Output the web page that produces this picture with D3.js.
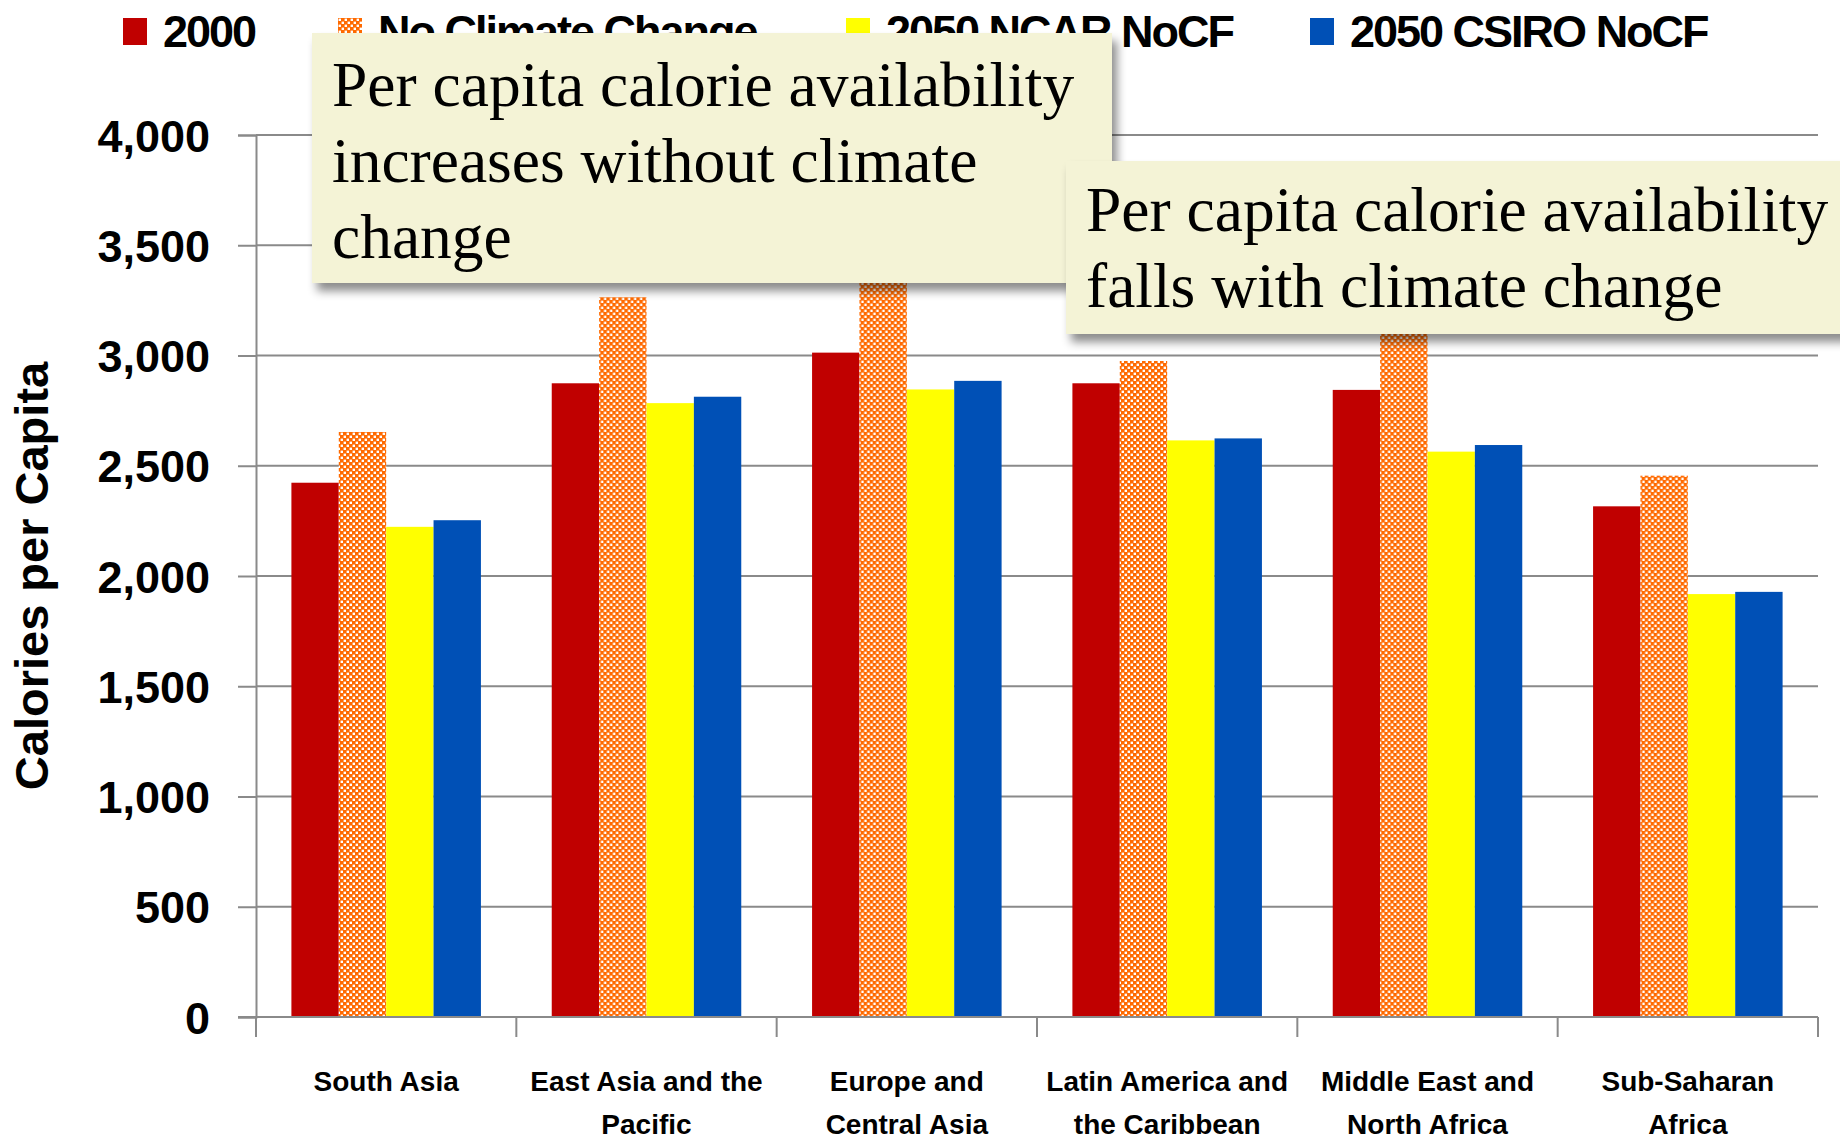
<!DOCTYPE html>
<html>
<head>
<meta charset="utf-8">
<script src="https://cdn.jsdelivr.net/npm/d3@7"></script>
<style>
  html, body { margin: 0; padding: 0; background: #fff; }
  svg { display: block; }
</style>
</head>
<body>
<svg id="chart" width="1840" height="1141"></svg>
<script>
// Regions and their wrapped axis labels
const categories = ["South Asia", "East Asia and the Pacific", "Europe and Central Asia",
  "Latin America and the Caribbean", "Middle East and North Africa", "Sub-Saharan Africa"];
const categoryLabelLines = [
  ["South Asia"],
  ["East Asia and the", "Pacific"],
  ["Europe and", "Central Asia"],
  ["Latin America and", "the Caribbean"],
  ["Middle East and", "North Africa"],
  ["Sub-Saharan", "Africa"]
];

// Series (per capita kcal/day)
const seriesNames = ["2000", "No Climate Change", "2050 NCAR NoCF", "2050 CSIRO NoCF"];
const values2000 = [2423, 2874, 3013, 2874, 2844, 2316];
const valuesNoCC = [2653, 3264, 3420, 2975, 3100, 2455];
const valuesNCAR = [2223, 2784, 2846, 2615, 2564, 1918];
const valuesCSIRO = [2253, 2813, 2885, 2624, 2594, 1928];

const yTicks = [0, 500, 1000, 1500, 2000, 2500, 3000, 3500, 4000];
const yTitle = "Calories per Capita";

const notes = [
  ["Per capita calorie availability", "increases without climate", "change"],
  ["Per capita calorie availability", "falls with climate change"]
];

const seriesValues = [values2000, valuesNoCC, valuesNCAR, valuesCSIRO];
const fills = ["#c00000", "url(#checker)", "#ffff00", "#0050b6"];

const svg = d3.select("#chart");
const defs = svg.append("defs");

// orange/white checker used by the no-climate-change series
const pat = defs.append("pattern").attr("id", "checker")
  .attr("patternUnits", "userSpaceOnUse").attr("width", 6).attr("height", 6);
pat.append("rect").attr("width", 6).attr("height", 6).attr("fill", "#ff6a00");
pat.append("rect").attr("x", 0.6).attr("y", 0.6).attr("width", 2.4).attr("height", 2.4).attr("fill", "#fff");
pat.append("rect").attr("x", 3.6).attr("y", 3.6).attr("width", 2.4).attr("height", 2.4).attr("fill", "#fff");

const shadow = defs.append("filter").attr("id", "shadow")
  .attr("x", "-5%").attr("y", "-5%").attr("width", "115%").attr("height", "125%");
shadow.append("feDropShadow").attr("dx", 5).attr("dy", 8).attr("stdDeviation", 5)
  .attr("flood-color", "#000").attr("flood-opacity", 0.45);

const plot = { left: 256, right: 1818, top: 135, bottom: 1017 };

const x0 = d3.scaleBand().domain(categories).range([plot.left, plot.right]).padding(0);
const bw = x0.bandwidth();
const x1 = d3.scaleBand().domain(seriesNames).range([bw * 0.136, bw * 0.864]).padding(0);
const y = d3.scaleLinear().domain([0, 4000]).range([plot.bottom, plot.top]);

const axisColor = "#8a8a8a";
const sans = "'Liberation Sans', Arial, sans-serif";
const serif = "'Liberation Serif', 'Times New Roman', serif";

// gridlines
svg.append("g").selectAll("line").data(yTicks.filter(d => d > 0)).join("line")
  .attr("x1", plot.left).attr("x2", plot.right)
  .attr("y1", d => y(d)).attr("y2", d => y(d))
  .attr("stroke", axisColor).attr("stroke-width", 2);

// y axis
const yAxis = svg.append("g").attr("transform", `translate(${plot.left},0)`)
  .call(d3.axisLeft(y).tickValues(yTicks).tickSize(18).tickPadding(28).tickFormat(d3.format(",")));
yAxis.select(".domain").attr("stroke", axisColor).attr("stroke-width", 2);
yAxis.selectAll(".tick line").attr("stroke", axisColor).attr("stroke-width", 2);
yAxis.selectAll(".tick text").attr("font-family", sans).attr("font-weight", "bold")
  .attr("font-size", 45).attr("fill", "#000").attr("dy", "0.36em");

// y title
svg.append("text")
  .attr("transform", `translate(48,${(plot.top + plot.bottom) / 2}) rotate(-90)`)
  .attr("text-anchor", "middle")
  .attr("font-family", sans).attr("font-weight", "bold").attr("font-size", 47)
  .text(yTitle);

// bars
const groups = svg.append("g").selectAll("g").data(categories).join("g")
  .attr("transform", d => `translate(${x0(d)},0)`);
groups.selectAll("rect")
  .data((c, ci) => seriesNames.map((s, si) => ({ s, si, v: seriesValues[si][ci] })))
  .join("rect")
  .attr("x", d => x1(d.s)).attr("width", x1.bandwidth())
  .attr("y", d => y(d.v)).attr("height", d => y(0) - y(d.v))
  .attr("fill", d => fills[d.si]);

// x axis with ticks on category boundaries
const xAxis = svg.append("g");
xAxis.append("line").attr("x1", plot.left - 18).attr("x2", plot.right)
  .attr("y1", plot.bottom).attr("y2", plot.bottom)
  .attr("stroke", axisColor).attr("stroke-width", 2);
const bounds = categories.map(c => x0(c)).concat([plot.right]);
xAxis.selectAll("line.b").data(bounds).join("line").attr("class", "b")
  .attr("x1", d => d).attr("x2", d => d)
  .attr("y1", plot.bottom).attr("y2", plot.bottom + 20)
  .attr("stroke", axisColor).attr("stroke-width", 2);
xAxis.selectAll("text").data(categories).join("text")
  .attr("x", d => x0(d) + bw / 2).attr("y", 1091)
  .attr("text-anchor", "middle")
  .attr("font-family", sans).attr("font-weight", "bold").attr("font-size", 28)
  .each(function (d, i) {
    d3.select(this).selectAll("tspan").data(categoryLabelLines[i]).join("tspan")
      .attr("x", x0(d) + bw / 2).attr("dy", (t, j) => j === 0 ? 0 : 43).text(t => t);
  });

// legend
const legendX = [123, 338, 846, 1310];
const legend = svg.append("g").selectAll("g").data(seriesNames).join("g")
  .attr("transform", (d, i) => `translate(${legendX[i]},0)`);
legend.append("rect").attr("x", 0).attr("y", 18).attr("width", 24).attr("height", 27)
  .attr("fill", (d, i) => fills[i]);
legend.append("text").attr("x", 40).attr("y", 47)
  .attr("font-family", sans).attr("font-weight", "bold").attr("font-size", 45)
  .attr("letter-spacing", -2)
  .text(d => d);

// annotation boxes
const noteBoxes = [
  { x: 312, y: 33, w: 800, h: 250, base: 106 },
  { x: 1066, y: 161, w: 790, h: 173, base: 231 }
];
noteBoxes.forEach((b, i) => {
  const g = svg.append("g");
  g.append("rect").attr("x", b.x).attr("y", b.y).attr("width", b.w).attr("height", b.h)
    .attr("fill", "#f4f3d6").attr("filter", "url(#shadow)");
  g.append("text").attr("font-family", serif).attr("font-size", 63.5).attr("fill", "#000")
    .selectAll("tspan").data(notes[i]).join("tspan")
    .attr("x", b.x + 20).attr("y", (t, j) => b.base + j * 76).text(t => t);
});
</script>
</body>
</html>
